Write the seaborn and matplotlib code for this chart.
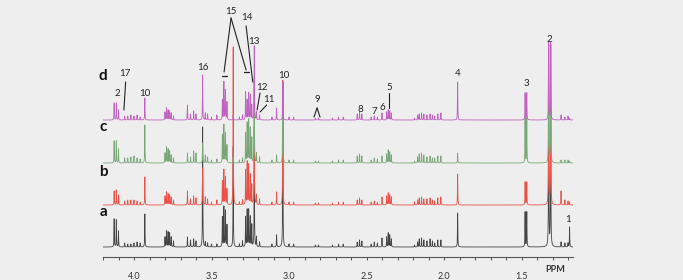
"""
    1H NMR spectra a-d stacked with peak assignments
"""
import matplotlib
matplotlib.use('Agg')
import matplotlib.pyplot as plt
import numpy as np
import pandas as pd
import seaborn as sns

# peak positions (ppm) and heights per spectrum (in px above baseline)
peak_ppm = [4.128, 4.114, 4.100, 4.06, 4.04, 4.02, 4.00, 3.98, 3.96, 3.93,
            3.80, 3.79, 3.78, 3.77, 3.76, 3.745, 3.655, 3.635, 3.615, 3.60,
            3.557, 3.54, 3.525, 3.50, 3.465, 3.43, 3.42, 3.41, 3.40, 3.36,
            3.32, 3.30, 3.28, 3.27, 3.26, 3.25, 3.24, 3.224, 3.21, 3.19,
            3.11, 3.08, 3.04, 3.00, 2.97, 2.83, 2.81, 2.72, 2.68, 2.65,
            2.56, 2.545, 2.53, 2.47, 2.45, 2.43, 2.40, 2.37, 2.36, 2.35,
            2.34, 2.19, 2.17, 2.16, 2.145, 2.13, 2.11, 2.09, 2.075, 2.06,
            2.04, 2.02, 1.912, 1.477, 1.466, 1.325, 1.312, 1.245, 1.22, 1.20,
            1.19]
height_d = [17, 17, 10, 4, 4, 5, 4, 5, 3, 22,
            8, 12, 10, 9, 7, 4, 15, 6, 9, 6,
            45, 7, 6, 3, 5, 20, 38, 30, 18, 5,
            3, 5, 28, 20, 27, 25, 15, 74, 8, 5,
            3, 12, 38, 3, 3, 2, 2, 2, 3, 3,
            6, 8, 6, 3, 4, 3, 7, 8, 10, 9,
            7, 2, 5, 6, 7, 6, 5, 6, 5, 4,
            6, 7, 38, 27, 27, 77, 77, 5, 3, 4,
            2]
height_c = [22, 22, 14, 5, 5, 6, 7, 5, 4, 38,
            10, 16, 14, 12, 8, 5, 10, 6, 12, 10,
            20, 8, 6, 3, 4, 28, 38, 30, 18, 6,
            3, 5, 30, 40, 43, 35, 25, 85, 10, 6,
            3, 8, 80, 3, 3, 2, 2, 2, 3, 3,
            7, 9, 7, 3, 5, 4, 7, 9, 13, 11,
            8, 2, 6, 9, 10, 8, 6, 7, 5, 5,
            7, 7, 10, 45, 45, 118, 118, 3, 3, 3,
            2]
height_b = [14, 15, 10, 4, 5, 5, 5, 4, 3, 28,
            9, 13, 11, 10, 8, 5, 14, 6, 9, 7,
            37, 8, 6, 3, 5, 24, 35, 28, 16, 158,
            3, 5, 35, 43, 40, 30, 20, 125, 10, 6,
            3, 13, 125, 3, 3, 2, 2, 2, 3, 3,
            5, 7, 5, 3, 4, 3, 8, 9, 12, 10,
            8, 3, 5, 7, 8, 6, 6, 7, 5, 4,
            7, 8, 31, 23, 23, 160, 160, 14, 5, 4,
            3]
height_a = [28, 27, 16, 4, 3, 3, 4, 5, 4, 33,
            10, 16, 15, 14, 10, 6, 10, 7, 8, 6,
            120, 5, 4, 3, 3, 30, 40, 36, 22, 100,
            3, 6, 30, 37, 37, 30, 22, 120, 10, 5,
            3, 12, 165, 3, 3, 2, 2, 2, 3, 3,
            5, 7, 6, 3, 5, 4, 9, 10, 14, 12,
            8, 2, 5, 8, 9, 7, 6, 8, 6, 4,
            7, 7, 34, 35, 35, 200, 200, 5, 4, 4,
            20]

spectra = ['a', 'b', 'c', 'd']
heights = {'a': height_a, 'b': height_b, 'c': height_c, 'd': height_d}
offsets = {'a': 10, 'b': 52, 'c': 94, 'd': 137}
colors = {'a': '#444444', 'b': '#ea5149', 'c': '#79a676', 'd': '#c060c0'}
letter_y = {'a': 45, 'b': 85, 'c': 130, 'd': 181}

tick_ppm = [4.0, 3.5, 3.0, 2.5, 2.0, 1.5]
tick_labels = ['4.0', '3.5', '3.0', '2.5', '2.0', '1.5']

# assignment labels: (text, ppm, y)
labels = [('2', 4.11, 163), ('17', 4.058, 183), ('10', 3.929, 163), ('16', 3.555, 190),
          ('15', 3.374, 246), ('14', 3.274, 239), ('13', 3.226, 216), ('12', 3.174, 170),
          ('11', 3.129, 157), ('10', 3.032, 181), ('9', 2.819, 158), ('8', 2.542, 148),
          ('7', 2.452, 145), ('6', 2.40, 150), ('5', 2.355, 170), ('4', 1.910, 183),
          ('3', 1.471, 174), ('2', 1.323, 217), ('1', 1.20, 37)]
# leader lines: (ppm1, y1, ppm2, y2)
leaders = [(4.054, 175, 4.065, 147), (3.374, 239, 3.419, 185), (3.374, 239, 3.277, 187),
           (3.277, 231, 3.234, 175), (3.187, 164, 3.206, 147), (3.144, 152, 3.187, 145),
           (2.839, 140, 2.819, 149), (2.819, 149, 2.80, 140), (2.355, 164, 2.355, 149)]
dashes = [(3.419, 181), (3.277, 185)]

sns.set_theme(style='white')
plt.rcParams['font.family'] = ['Lato', 'DejaVu Sans']
bg = '#eeeeee'

ppm = np.union1d(np.linspace(4.2, 1.168, 10000), peak_ppm)
gamma = 0.0012

fig = plt.figure(figsize=(6.83, 2.80), dpi=100, facecolor=bg)
ax = fig.add_axes([103 / 683, 23 / 280, 470 / 683, 257 / 280], facecolor=bg)

for s in spectra:
    h = np.array(heights[s], dtype=float)
    pos = np.array(peak_ppm)
    y = (h[None, :] * gamma ** 2 / ((ppm[:, None] - pos[None, :]) ** 2 + gamma ** 2)).sum(axis=1)
    df = pd.DataFrame({'ppm': ppm, 'y': y + offsets[s]})
    sns.lineplot(data=df, x='ppm', y='y', ax=ax, color=colors[s], lw=0.6,
                 sort=False, estimator=None)
    ax.text(4.2, letter_y[s], s, fontsize=11, fontweight='bold', ha='center',
            va='center', color='#111111', clip_on=False)

for txt, x, y in labels:
    ax.text(x, y, txt, fontsize=7, ha='center', va='center', color='#222222')
for x1, y1, x2, y2 in leaders:
    ax.plot([x1, x2], [y1, y2], color='#222222', lw=0.8)
for x, y in dashes:
    ax.plot([x - 0.016, x + 0.016], [y, y], color='#222222', lw=0.9)

ax.set_xlim(4.2, 1.168)
ax.set_ylim(0, 257)
ax.set_xlabel('')
ax.set_ylabel('')
ax.set_yticks([])
ax.set_xticks(tick_ppm)
ax.set_xticklabels(tick_labels, fontsize=6.5, color='#333333')
ax.set_xticks(np.round(np.arange(4.2, 1.15, -0.1), 1), minor=True)
ax.tick_params(axis='x', which='both', direction='out', length=2.5, width=0.7,
               color='#555555', bottom=True, pad=8)
for side in ['top', 'left', 'right']:
    ax.spines[side].set_visible(False)
ax.spines['bottom'].set_color('#555555')
ax.spines['bottom'].set_linewidth(0.8)
ax.text(1.28, -12, 'PPM', fontsize=6.5, fontweight='bold', ha='center', va='center',
        color='#333333', clip_on=False)

fig.savefig('out.png', dpi=100, facecolor=bg)
